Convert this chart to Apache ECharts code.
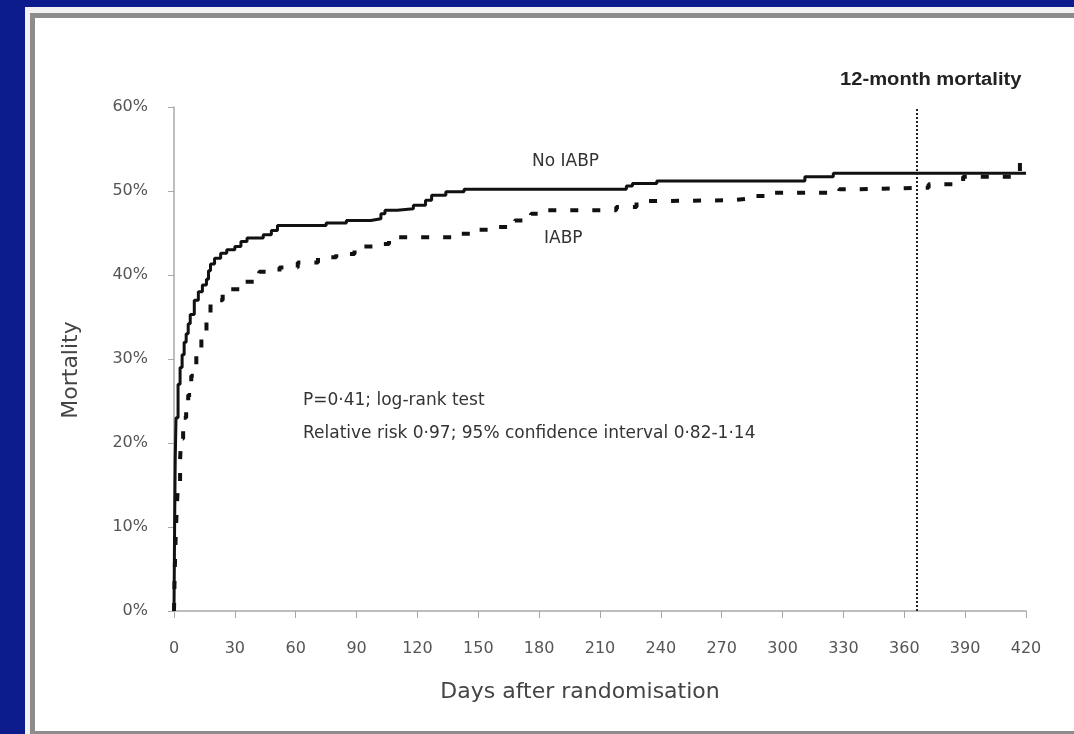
<!DOCTYPE html>
<html>
<head>
<meta charset="utf-8">
<script src="https://cdn.jsdelivr.net/npm/echarts@6/dist/echarts.min.js"></script>
<style>
  html, body { margin: 0; padding: 0; background: #0c1c8c; }
  #main { width: 1074px; height: 734px; }
</style>
</head>
<body>
<div id="main"></div>
<script>
// x ticks (days) and y ticks (%)
var dayTicks = [0, 30, 60, 90, 120, 150, 180, 210, 240, 270, 300, 330, 360, 390, 420];
var pctTicks = [0, 10, 20, 30, 40, 50, 60];

// No IABP (solid) - [day, mortality %]
var noIabpDays = [0, 0.3, 0.6, 1, 2, 3, 4, 5, 6, 7, 8, 10, 12, 14, 16, 17, 18, 20, 23, 26, 30, 33, 36, 44, 48, 51, 75, 85, 97, 102, 104, 110, 118, 124, 127, 134, 143, 221, 223, 226, 238, 311, 325, 420];
var noIabpPct  = [0, 10, 18, 23, 27, 29, 30.5, 32, 33, 34.2, 35.3, 37, 38, 38.8, 39.5, 40.5, 41.3, 42, 42.6, 43, 43.4, 44, 44.4, 44.8, 45.3, 45.9, 46.2, 46.5, 46.7, 47.3, 47.7, 47.9, 48.3, 48.9, 49.5, 49.9, 50.2, 50.2, 50.6, 50.9, 51.2, 51.7, 52.1, 52.1];

// IABP (dashed)
var iabpDays = [0, 0.3, 0.6, 1, 1.5, 2, 3, 3.5, 4.5, 6, 7, 8.5, 11, 13.5, 16, 18, 20, 24, 28, 35, 42, 52, 61, 71, 80, 89, 99, 106, 141, 150, 160, 168, 176, 180, 218, 228, 240, 275, 284, 294, 328, 337, 372, 389, 415, 417, 420];
var iabpPct  = [0, 4, 7, 10, 13, 15, 18, 20.5, 23, 24.5, 25.7, 28, 30.5, 33, 35.2, 36.5, 37, 38, 38.3, 39.2, 40.4, 40.9, 41.5, 42.1, 42.5, 43.4, 43.7, 44.5, 44.9, 45.4, 45.7, 46.5, 47.3, 47.7, 48.1, 48.8, 48.9, 49.1, 49.4, 49.8, 50.2, 50.4, 50.8, 51.7, 51.8, 53.5, 53.5];

var cutoffDay = 366;

function pairs(xs, ys) {
  var out = [];
  for (var i = 0; i < xs.length; i++) out.push([xs[i], ys[i]]);
  return out;
}

var chart = echarts.init(document.getElementById('main'), null, { renderer: 'canvas' });

var txtFont = '17px "DejaVu Sans", Verdana, sans-serif';

var option = {
  animation: false,
  backgroundColor: 'transparent',
  textStyle: { fontFamily: 'DejaVu Sans, Verdana, sans-serif' },
  grid: { left: 174, right: 48, top: 107, bottom: 123, containLabel: false },
  graphic: [
    // slide frame
    { type: 'rect', z: -10, shape: { x: 25, y: 7, width: 1100, height: 740 }, style: { fill: '#f2f2f2' } },
    { type: 'rect', z: -9, shape: { x: 30, y: 13, width: 1100, height: 721 }, style: { fill: '#8c8c8c' } },
    { type: 'rect', z: -8, shape: { x: 35, y: 18, width: 1100, height: 713 }, style: { fill: '#ffffff' } },
    // annotations
    { type: 'text', x: 840, y: 71, scaleX: 1.12, style: { text: '12-month mortality', font: 'bold 18px "Liberation Sans", Arial, sans-serif', fill: '#222' } },
    { type: 'text', left: 532, top: 153, style: { text: 'No IABP', font: txtFont, fill: '#333' } },
    { type: 'text', left: 544, top: 230, style: { text: 'IABP', font: txtFont, fill: '#333' } },
    { type: 'text', left: 303, top: 392, style: { text: 'P=0·41; log-rank test', font: txtFont, fill: '#333' } },
    { type: 'text', left: 303, top: 425, style: { text: 'Relative risk 0·97; 95% confidence interval 0·82-1·14', font: txtFont, fill: '#333' } }
  ],
  xAxis: {
    type: 'value',
    min: dayTicks[0],
    max: dayTicks[dayTicks.length - 1],
    interval: 30,
    name: 'Days after randomisation',
    nameLocation: 'middle',
    nameGap: 70,
    nameTextStyle: { fontSize: 22, color: '#444', padding: [0, 40, 0, 0] },
    axisLine: { lineStyle: { color: '#a8a8a8', width: 1.5 } },
    axisTick: { show: true, length: 7, lineStyle: { color: '#a8a8a8' } },
    axisLabel: { margin: 30, fontSize: 16, color: '#555' },
    splitLine: { show: false }
  },
  yAxis: {
    type: 'value',
    min: pctTicks[0],
    max: pctTicks[pctTicks.length - 1],
    interval: 10,
    name: 'Mortality',
    nameLocation: 'middle',
    nameGap: 92,
    nameRotate: 90,
    nameTextStyle: { fontSize: 22, color: '#444', padding: [0, 0, 0, -22] },
    axisLine: { show: true, lineStyle: { color: '#a8a8a8', width: 1.5 } },
    axisTick: { show: true, length: 6, lineStyle: { color: '#a8a8a8' } },
    axisLabel: { margin: 26, fontSize: 16, color: '#555', formatter: '{value}%' },
    splitLine: { show: false }
  },
  series: [
    {
      name: 'No IABP',
      type: 'line',
      step: 'end',
      symbol: 'none',
      data: pairs(noIabpDays, noIabpPct),
      lineStyle: { color: '#111', width: 3 },
      z: 3
    },
    {
      name: 'IABP',
      type: 'line',
      step: 'end',
      symbol: 'none',
      data: pairs(iabpDays, iabpPct),
      lineStyle: { color: '#111', width: 4, type: [8, 14] },
      z: 2,
      markLine: {
        silent: true,
        symbol: 'none',
        label: { show: false },
        lineStyle: { color: '#222', width: 2, type: [2, 2] },
        data: [{ xAxis: cutoffDay }]
      }
    }
  ]
};

chart.setOption(option);
</script>
</body>
</html>
